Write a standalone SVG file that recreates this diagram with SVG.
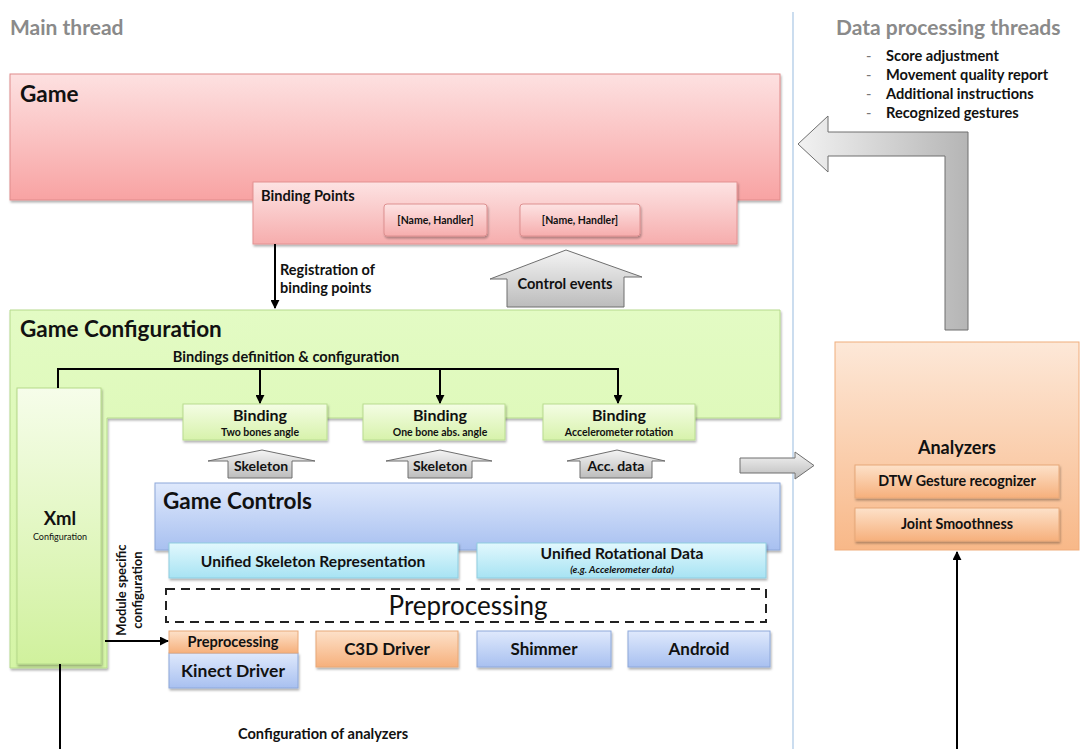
<svg xmlns="http://www.w3.org/2000/svg" width="1081" height="749" viewBox="0 0 1081 749">
<defs>
  <linearGradient id="gRed" x1="0" y1="0" x2="0" y2="1"><stop offset="0" stop-color="#fde1e1"/><stop offset="1" stop-color="#f8a3a3"/></linearGradient>
  <linearGradient id="gRed2" x1="0" y1="0" x2="0" y2="1"><stop offset="0" stop-color="#fde3e3"/><stop offset="1" stop-color="#f6adad"/></linearGradient>
  <linearGradient id="gGreen" x1="0" y1="0" x2="0" y2="1"><stop offset="0" stop-color="#e3fbc4"/><stop offset="1" stop-color="#d5f5a6"/></linearGradient>
  <linearGradient id="gXml" x1="0" y1="0" x2="0" y2="1"><stop offset="0" stop-color="#f6fdea"/><stop offset="1" stop-color="#d0f19d"/></linearGradient>
  <linearGradient id="gBind" x1="0" y1="0" x2="0" y2="1"><stop offset="0" stop-color="#f4fde4"/><stop offset="1" stop-color="#d7f2ab"/></linearGradient>
  <linearGradient id="gGray" x1="0" y1="0" x2="0" y2="1"><stop offset="0" stop-color="#f4f4f4"/><stop offset="1" stop-color="#bcbcbc"/></linearGradient>
  <linearGradient id="gGrayH" x1="0" y1="0" x2="1" y2="0"><stop offset="0" stop-color="#f2f2f2"/><stop offset="1" stop-color="#b5b5b5"/></linearGradient>
  <linearGradient id="gBlue" x1="0" y1="0" x2="0" y2="1"><stop offset="0" stop-color="#dfe9fc"/><stop offset="1" stop-color="#a8c0f0"/></linearGradient>
  <linearGradient id="gCyan" x1="0" y1="0" x2="0" y2="1"><stop offset="0" stop-color="#e2f8fd"/><stop offset="1" stop-color="#a7e3f3"/></linearGradient>
  <linearGradient id="gOrange" x1="0" y1="0" x2="0" y2="1"><stop offset="0" stop-color="#fde1c9"/><stop offset="1" stop-color="#f6b07c"/></linearGradient>
  <linearGradient id="gAnal" x1="0" y1="0" x2="0" y2="1"><stop offset="0" stop-color="#fde8d8"/><stop offset="1" stop-color="#f8b888"/></linearGradient>
  <filter id="sh" x="-10%" y="-10%" width="120%" height="130%"><feDropShadow dx="1" dy="2" stdDeviation="1.2" flood-color="#000" flood-opacity="0.3"/></filter>
  <marker id="ah" viewBox="0 0 10 10" refX="9" refY="5" markerWidth="9" markerHeight="9" markerUnits="userSpaceOnUse" orient="auto"><path d="M0,0 L10,5 L0,10 Z" fill="#000"/></marker>
</defs>
<style>
  text{font-family:Lato,"Open Sans","Liberation Sans",sans-serif;font-weight:bold;fill:#111}
  .hdr{fill:#8a8a8a;font-size:21px}
  .big{font-size:22.5px}
  .c{text-anchor:middle}
  .s14{font-size:14.6px}
  .s10{font-size:10.5px}
  .ln{stroke:#000;stroke-width:2;fill:none}
  .garr{fill:url(#gGray);stroke:#6e6e6e;stroke-width:1}
  .dash{font-weight:normal;fill:#777}
</style>
<rect width="1081" height="749" fill="#fff"/>

<g id="labels">
  <text x="10" y="35" class="hdr">Main thread</text>
  <text x="836" y="35" class="hdr">Data processing threads</text>
  <line x1="793" y1="12" x2="793" y2="749" stroke="#a9c6e4" stroke-width="1.2"/>
  <text x="866" y="61" class="s14 dash">-</text><text x="886" y="61" class="s14">Score adjustment</text>
  <text x="866" y="80" class="s14 dash">-</text><text x="886" y="80" class="s14">Movement quality report</text>
  <text x="866" y="99" class="s14 dash">-</text><text x="886" y="99" class="s14">Additional instructions</text>
  <text x="866" y="118" class="s14 dash">-</text><text x="886" y="118" class="s14">Recognized gestures</text>
</g>

<g id="game">
  <rect x="10" y="74" width="770" height="126" fill="url(#gRed)" stroke="#e08b8b" filter="url(#sh)"/>
  <text x="20" y="102" class="big">Game</text>
</g>
<g id="binding-points">
  <rect x="253" y="182" width="484" height="62" fill="url(#gRed2)" stroke="#e39292" filter="url(#sh)"/>
  <text x="261" y="201" class="s14">Binding Points</text>
  <rect x="384" y="204" width="103" height="32" rx="3" fill="url(#gRed2)" stroke="#de9090" filter="url(#sh)"/>
  <text x="435.5" y="224" class="c s10">[Name, Handler]</text>
  <rect x="520" y="204" width="120" height="32" rx="3" fill="url(#gRed2)" stroke="#de9090" filter="url(#sh)"/>
  <text x="580" y="224" class="c s10">[Name, Handler]</text>
</g>

<g id="return-arrow">
  <path d="M968,132 V330 H945 V156 H828 V172 L798,144 L828,116 V132 Z" fill="url(#gGrayH)" stroke="#6e6e6e"/>
</g>

<g id="control-events">
  <path d="M566,250 L642,277 H624 V307 H507 V279 H490 Z" class="garr"/>
  <text x="565" y="289" class="c s14">Control events</text>
</g>

<g id="game-configuration">
  <path d="M10,310 H780 V418 H107 V668 H10 Z" fill="url(#gGreen)" stroke="#b6da8c" filter="url(#sh)"/>
  <text x="20" y="337" class="big">Game Configuration</text>
  <text x="286" y="362" class="c s14">Bindings definition &amp; configuration</text>
</g>

<g id="xml">
  <rect x="17" y="388" width="84" height="276" fill="url(#gXml)" stroke="#b5d98a" filter="url(#sh)"/>
  <text x="60" y="525" class="c" font-size="18.5">Xml</text>
  <text x="60" y="540" class="c" font-size="9" style="font-weight:normal">Configuration</text>
</g>

<g id="bindings">
  <rect x="183" y="404" width="144" height="36" fill="url(#gBind)" stroke="#b9dc90" filter="url(#sh)"/>
  <text x="260" y="421" class="c" font-size="16">Binding</text>
  <text x="260" y="436" class="c" font-size="10.5">Two bones angle</text>
  <rect x="363" y="404" width="142" height="36" fill="url(#gBind)" stroke="#b9dc90" filter="url(#sh)"/>
  <text x="440" y="421" class="c" font-size="16">Binding</text>
  <text x="440" y="436" class="c" font-size="10.5">One  bone abs. angle</text>
  <rect x="543" y="404" width="152" height="36" fill="url(#gBind)" stroke="#b9dc90" filter="url(#sh)"/>
  <text x="619" y="421" class="c" font-size="16">Binding</text>
  <text x="619" y="436" class="c" font-size="10.5">Accelerometer rotation</text>
</g>

<g id="data-arrows">
  <path d="M262,450 L315,461 H292 V478 H228 V461 H208 Z" class="garr"/>
  <text x="261" y="471" class="c" font-size="14">Skeleton</text>
  <path d="M440,450 L492,461 H472 V478 H408 V461 H386 Z" class="garr"/>
  <text x="440" y="471" class="c" font-size="14">Skeleton</text>
  <path d="M617,450 L665,461 H652 V478 H580 V461 H567 Z" class="garr"/>
  <text x="616" y="471" class="c" font-size="14">Acc. data</text>
  <path d="M740,458 H795 V452 L814,465.5 L795,479 V473 H740 Z" fill="url(#gGray)" stroke="#6e6e6e"/>
</g>

<g id="game-controls">
  <rect x="155" y="483" width="625" height="67" fill="url(#gBlue)" stroke="#8ea8da" filter="url(#sh)"/>
  <text x="163" y="509" class="big">Game Controls</text>
</g>
<g id="unified-skeleton">
  <rect x="169" y="543" width="289" height="35" fill="url(#gCyan)" stroke="#8fcde0" filter="url(#sh)"/>
  <text x="313" y="567" class="c" font-size="15.6">Unified Skeleton Representation</text>
</g>
<g id="unified-rotational">
  <rect x="477" y="543" width="289" height="35" fill="url(#gCyan)" stroke="#8fcde0" filter="url(#sh)"/>
  <text x="622" y="559" class="c" font-size="15.6">Unified Rotational  Data</text>
  <text x="622" y="573" class="c" font-size="10" style="font-style:italic">(e.g. Accelerometer data)</text>
</g>
<g id="preprocessing-layer">
  <rect x="166" y="589" width="600" height="33" fill="none" stroke="#222" stroke-width="2" stroke-dasharray="9,6"/>
  <text x="468" y="615" class="c" font-size="26" style="font-weight:normal">Preprocessing</text>
</g>

<g id="kinect">
  <rect x="169" y="653" width="129" height="35" fill="url(#gBlue)" stroke="#8ea8da" filter="url(#sh)"/>
  <text x="233" y="677" class="c" font-size="17.5">Kinect Driver</text>
  <rect x="169" y="631" width="129" height="22" fill="url(#gOrange)" stroke="#e8a878"/>
  <text x="233" y="647" class="c s14">Preprocessing</text>
</g>
<g id="c3d">
  <rect x="316" y="631" width="142" height="36" fill="url(#gOrange)" stroke="#e8a878" filter="url(#sh)"/>
  <text x="387" y="655" class="c" font-size="17">C3D Driver</text>
</g>
<g id="shimmer">
  <rect x="477" y="631" width="134" height="36" fill="url(#gBlue)" stroke="#8ea8da" filter="url(#sh)"/>
  <text x="544" y="655" class="c" font-size="17">Shimmer</text>
</g>
<g id="android">
  <rect x="628" y="631" width="142" height="36" fill="url(#gBlue)" stroke="#8ea8da" filter="url(#sh)"/>
  <text x="699" y="655" class="c" font-size="17">Android</text>
</g>

<g id="analyzers">
  <rect x="835" y="342" width="244" height="208" fill="url(#gAnal)" stroke="#f0ad7c"/>
  <text x="957" y="454" class="c" font-size="18">Analyzers</text>
  <rect x="855" y="465" width="204" height="33" fill="url(#gOrange)" stroke="#e8a878" filter="url(#sh)"/>
  <text x="957" y="486" class="c" font-size="14.3">DTW Gesture recognizer</text>
  <rect x="855" y="508" width="204" height="33" fill="url(#gOrange)" stroke="#e8a878" filter="url(#sh)"/>
  <text x="957" y="529" class="c" font-size="14.3">Joint Smoothness</text>
</g>

<g id="connectors">
  <line x1="275" y1="244" x2="275" y2="308" class="ln" marker-end="url(#ah)"/>
  <text x="280" y="275" font-size="14.5">Registration of</text>
  <text x="280" y="293" font-size="14.5">binding points</text>
  <path d="M58,388 V369 H618" class="ln"/>
  <line x1="260" y1="369" x2="260" y2="403" class="ln" marker-end="url(#ah)"/>
  <line x1="440" y1="369" x2="440" y2="403" class="ln" marker-end="url(#ah)"/>
  <line x1="618" y1="368" x2="618" y2="403" class="ln" marker-end="url(#ah)"/>
  <line x1="105" y1="641" x2="168" y2="641" class="ln" marker-end="url(#ah)"/>
  <text transform="translate(126,590) rotate(-90)" class="c" font-size="13">Module specific</text>
  <text transform="translate(142,590) rotate(-90)" class="c" font-size="13">configuration</text>
  <line x1="60" y1="664" x2="60" y2="749" class="ln"/>
  <text x="323" y="739" class="c s14">Configuration of analyzers</text>
  <line x1="957" y1="749" x2="957" y2="552" class="ln" marker-end="url(#ah)"/>
</g>
</svg>
